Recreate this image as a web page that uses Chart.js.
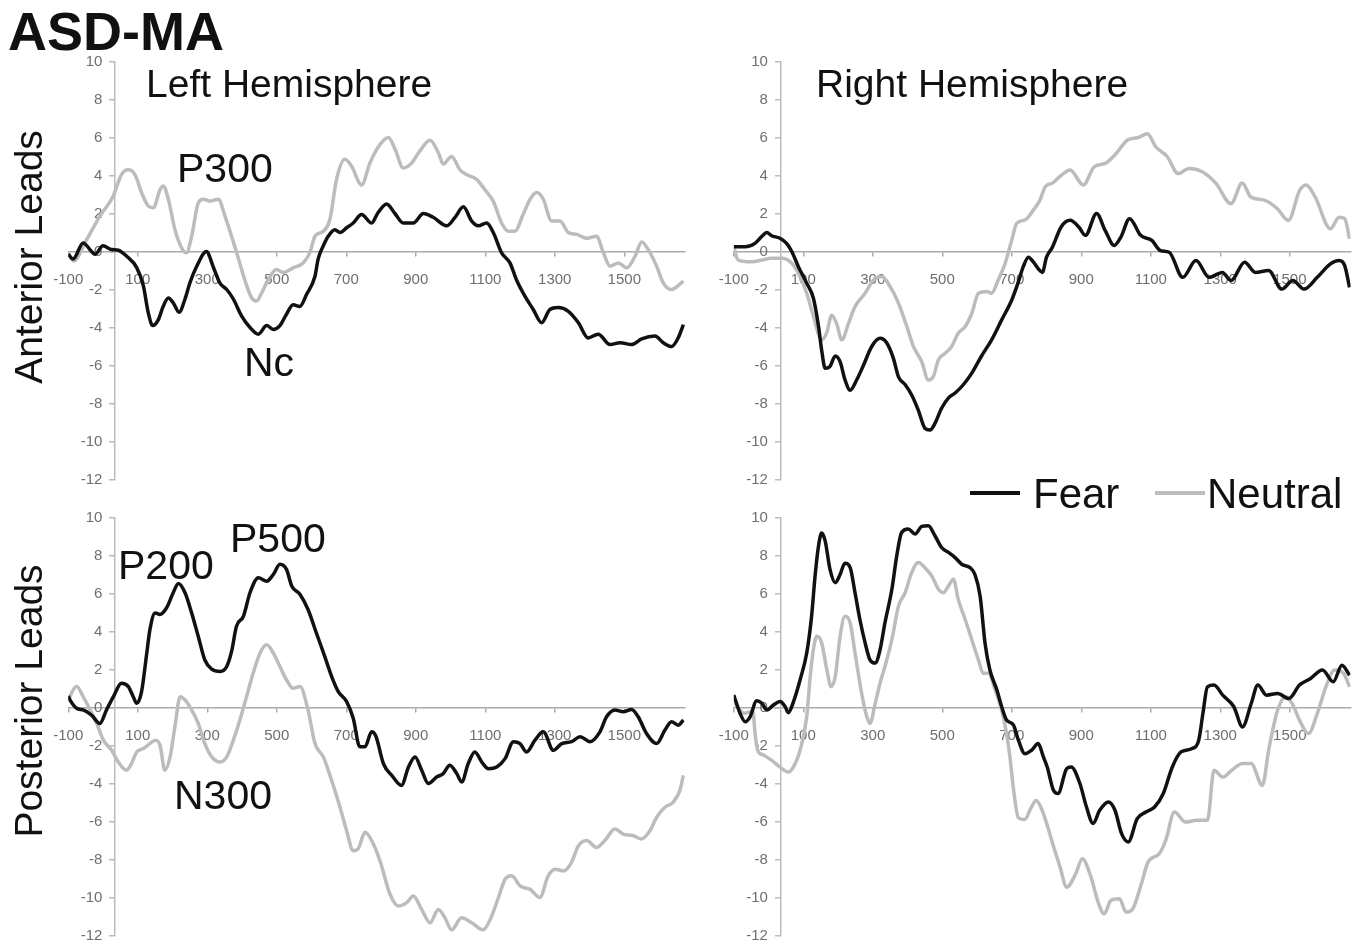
<!DOCTYPE html>
<html><head><meta charset="utf-8">
<script src="https://cdn.jsdelivr.net/npm/chart.js@4/dist/chart.umd.min.js"></script>
<style>
html,body{margin:0;padding:0;background:#fff;}
body{width:1362px;height:944px;overflow:hidden;position:relative;font-family:"Liberation Sans",Arial,sans-serif;}
canvas{position:absolute;}
.t{position:absolute;white-space:nowrap;line-height:1;color:#111;}
.sw{position:absolute;height:4px;}
</style></head><body>
<canvas id="tl" width="690" height="460" style="left:20px;top:40px"></canvas>
<canvas id="tr" width="672" height="460" style="left:690px;top:40px"></canvas>
<canvas id="bl" width="690" height="460" style="left:20px;top:496px"></canvas>
<canvas id="br" width="672" height="460" style="left:690px;top:496px"></canvas>
<div id="texts"></div>
<script>
// ---- axis definitions ----
const xMin = -100, xMax = 1675, yMin = -12, yMax = 10;
const xTickValues = [-100, 100, 300, 500, 700, 900, 1100, 1300, 1500];
const yTickValues = [10, 8, 6, 4, 2, 0, -2, -4, -6, -8, -10, -12];
const yAxisAtMs = 34;
const seriesNames = ['Fear', 'Neutral'];

// ---- data: [time ms, amplitude µV] ----
const antLeftFear = [[-100,-0.15],[-86,-0.4],[-57,0.45],[-33,0],[-23,-0.15],[0,0.3],[25,0.1],[44,0.07],[68,-0.25],[97,-0.85],[116,-1.8],[130,-3.2],[143,-3.9],[159,-3.6],[173,-2.9],[188,-2.45],[202,-2.7],[219,-3.2],[236,-2.5],[250,-1.65],[269,-0.8],[298,0.0],[317,-0.8],[336,-1.65],[356,-2.0],[375,-2.5],[399,-3.4],[423,-4.0],[447,-4.35],[471,-3.9],[490,-4.1],[509,-3.9],[528,-3.3],[547,-2.8],[566,-2.9],[586,-2.25],[610,-1.3],[619,-0.4],[634,0.3],[648,0.8],[667,1.15],[682,1.0],[701,1.25],[720,1.5],[744,1.95],[773,1.5],[790,2.0],[816,2.5],[840,2.0],[864,1.5],[893,1.5],[922,2.0],[950,1.8],[989,1.35],[1013,1.8],[1037,2.35],[1061,1.6],[1080,1.35],[1104,1.5],[1123,1.0],[1147,-0.07],[1171,-0.6],[1190,-1.5],[1214,-2.35],[1238,-3.05],[1262,-3.75],[1286,-3.05],[1310,-2.95],[1339,-3.15],[1368,-3.75],[1396,-4.55],[1425,-4.35],[1459,-4.9],[1488,-4.8],[1521,-4.9],[1550,-4.6],[1588,-4.45],[1612,-4.8],[1636,-5.0],[1655,-4.55],[1670,-3.85]];
const antLeftNeutral = [[-100,-0.1],[-84,-0.5],[-47,0.63],[-9,1.86],[29,2.9],[53,4.05],[73,4.3],[92,4.05],[111,3.1],[130,2.4],[145,2.3],[164,3.25],[173,3.45],[188,2.75],[207,1.15],[226,0.2],[240,-0.07],[255,0.8],[274,2.55],[288,2.75],[308,2.65],[332,2.75],[351,1.86],[370,0.8],[389,-0.33],[408,-1.5],[428,-2.45],[442,-2.6],[456,-2.2],[475,-1.5],[499,-0.95],[518,-1.1],[547,-0.86],[576,-0.6],[595,-0.07],[610,0.8],[634,1.07],[653,1.7],[672,3.8],[696,4.85],[715,4.5],[744,3.5],[768,4.65],[792,5.5],[821,6.0],[840,5.4],[864,4.4],[888,4.65],[912,5.3],[941,5.85],[965,5.2],[979,4.6],[1003,5.0],[1027,4.3],[1046,4.05],[1075,3.8],[1099,3.25],[1123,2.65],[1147,1.5],[1166,1.07],[1185,1.07],[1210,2.0],[1229,2.75],[1248,3.1],[1267,2.75],[1291,1.6],[1315,1.6],[1339,1.0],[1363,0.9],[1392,0.7],[1420,0.8],[1440,-0.07],[1459,-0.77],[1483,-0.6],[1507,-0.86],[1531,-0.25],[1550,0.5],[1569,0.1],[1593,-0.77],[1612,-1.65],[1636,-2.0],[1655,-1.8],[1670,-1.55]];
const antRightFear = [[-100,0.25],[-67,0.25],[-39,0.43],[-19,0.8],[-5,1.0],[9,0.83],[33,0.7],[52,0.43],[67,0],[86,-0.8],[110,-1.67],[129,-2.45],[144,-3.95],[153,-5.2],[163,-6.15],[177,-6.05],[192,-5.5],[206,-5.8],[220,-6.75],[235,-7.3],[254,-6.75],[273,-6.0],[297,-5.0],[321,-4.57],[340,-4.8],[359,-5.6],[374,-6.6],[393,-7.0],[412,-7.55],[431,-8.35],[450,-9.3],[465,-9.4],[479,-9.05],[498,-8.25],[518,-7.7],[537,-7.45],[561,-7.0],[585,-6.4],[613,-5.5],[642,-4.65],[671,-3.6],[700,-2.55],[719,-1.6],[733,-0.8],[748,-0.3],[762,-0.55],[778,-0.95],[788,-1.1],[800,-0.3],[817,0.23],[842,1.29],[868,1.64],[893,1.29],[912,0.85],[944,2.0],[969,1.1],[995,0.32],[1014,0.76],[1039,1.73],[1071,0.85],[1103,0.58],[1128,0.05],[1153,-0.04],[1192,-1.36],[1230,-0.48],[1268,-1.36],[1306,-1.1],[1331,-1.53],[1370,-0.56],[1401,-1.1],[1439,-1.0],[1477,-1.98],[1509,-1.53],[1541,-1.98],[1579,-1.36],[1617,-0.65],[1642,-0.48],[1658,-0.74],[1672,-1.89]];
const antRightNeutral = [[-100,0.3],[-92,-0.3],[-87,-0.45],[-48,-0.54],[-19,-0.45],[9,-0.36],[38,-0.36],[67,-0.62],[86,-1.15],[110,-2.2],[129,-3.4],[153,-4.65],[167,-4.3],[182,-3.35],[196,-3.8],[211,-4.65],[230,-3.8],[249,-2.9],[278,-2.2],[302,-1.5],[326,-1.32],[350,-1.85],[374,-2.72],[398,-3.95],[417,-5.0],[441,-5.8],[460,-6.76],[474,-6.6],[489,-5.7],[508,-5.36],[527,-5.0],[546,-4.3],[566,-3.95],[585,-3.25],[604,-2.2],[628,-2.1],[642,-2.2],[661,-1.5],[681,-0.62],[700,0.6],[714,1.48],[738,1.66],[762,2.18],[781,2.7],[796,3.4],[817,3.6],[842,4.0],[868,4.29],[906,3.5],[937,4.46],[969,4.64],[1001,5.17],[1033,5.87],[1064,6.0],[1090,6.2],[1115,5.5],[1147,5.0],[1179,4.1],[1210,4.37],[1248,4.2],[1287,3.6],[1331,2.52],[1363,3.6],[1388,2.87],[1426,2.7],[1464,2.26],[1496,1.64],[1528,3.2],[1547,3.5],[1573,2.87],[1617,1.2],[1642,1.8],[1658,1.73],[1672,0.67]];
const postLeftFear = [[-100,0.6],[-95,0.4],[-76,-0.04],[-57,-0.13],[-33,-0.4],[-9,-0.84],[10,-0.13],[30,0.57],[53,1.28],[73,1.1],[87,0.57],[97,0.22],[111,0.84],[126,2.87],[135,4.1],[150,4.98],[164,4.9],[183,5.25],[202,6.04],[217,6.53],[236,6.04],[255,4.98],[274,3.75],[293,2.5],[313,2.02],[337,1.9],[356,2.16],[370,2.95],[384,4.28],[404,4.8],[423,6.04],[447,6.83],[471,6.65],[490,7.0],[509,7.54],[528,7.27],[543,6.4],[567,5.95],[590,5.16],[614,3.92],[638,2.69],[658,1.63],[677,0.84],[701,0.31],[720,-0.57],[739,-2.07],[754,-2.07],[773,-1.28],[785,-1.5],[807,-2.96],[831,-3.57],[859,-4.1],[879,-3.13],[898,-2.6],[917,-3.3],[936,-4.0],[960,-3.66],[979,-3.48],[998,-3.04],[1018,-3.48],[1032,-3.92],[1051,-2.95],[1070,-2.34],[1090,-2.87],[1109,-3.22],[1133,-3.13],[1157,-2.69],[1181,-1.8],[1200,-1.9],[1219,-2.34],[1243,-1.72],[1267,-1.28],[1296,-2.25],[1320,-1.9],[1348,-1.8],[1373,-1.54],[1401,-1.8],[1430,-1.28],[1449,-0.49],[1473,-0.13],[1497,-0.22],[1521,-0.1],[1540,-0.49],[1564,-1.37],[1593,-1.9],[1617,-1.19],[1636,-0.75],[1655,-0.93],[1670,-0.66]];
const postLeftNeutral = [[-100,0.3],[-95,0.57],[-76,1.1],[-57,0.57],[-37,-0.13],[-18,-0.84],[1,-1.72],[25,-2.25],[44,-2.87],[68,-3.3],[82,-2.95],[97,-2.34],[116,-2.16],[135,-1.9],[150,-1.72],[164,-1.98],[178,-3.3],[193,-2.6],[207,-1.0],[222,0.57],[236,0.4],[255,-0.13],[274,-0.84],[293,-1.9],[313,-2.6],[337,-2.87],[356,-2.6],[375,-1.72],[394,-0.66],[413,0.57],[432,1.8],[452,2.87],[471,3.3],[490,2.87],[509,2.16],[528,1.46],[547,1.01],[567,1.1],[590,-0.13],[610,-1.9],[634,-2.6],[658,-3.84],[682,-5.25],[701,-6.48],[720,-7.54],[734,-7.45],[754,-6.57],[773,-7.0],[797,-8.07],[826,-9.83],[850,-10.45],[874,-10.27],[893,-9.92],[917,-10.63],[941,-11.33],[965,-10.63],[984,-11.07],[1003,-11.7],[1032,-11.07],[1061,-11.33],[1094,-11.7],[1114,-11.16],[1138,-10.0],[1157,-9.04],[1176,-8.86],[1200,-9.39],[1229,-9.57],[1257,-10.0],[1281,-8.86],[1301,-8.51],[1325,-8.6],[1348,-8.16],[1368,-7.28],[1392,-7.0],[1420,-7.37],[1444,-7.0],[1473,-6.4],[1497,-6.66],[1526,-6.75],[1550,-6.92],[1574,-6.48],[1593,-5.78],[1617,-5.25],[1641,-4.98],[1660,-4.36],[1670,-3.57]];
const postRightFear = [[-100,0.66],[-82,-0.3],[-67,-0.75],[-53,-0.49],[-34,0.36],[-19,0.22],[-5,-0.13],[14,0.13],[33,0.31],[48,0.04],[57,-0.27],[72,0.31],[91,1.46],[110,2.87],[124,4.8],[134,6.92],[144,8.51],[153,9.18],[163,8.77],[177,7.27],[192,6.57],[206,7.0],[220,7.59],[235,7.36],[249,6.04],[263,4.63],[278,3.4],[292,2.51],[307,2.34],[321,3.04],[335,4.45],[355,6.22],[369,7.98],[383,9.21],[402,9.39],[422,9.13],[441,9.53],[460,9.57],[479,9.04],[498,8.42],[518,8.16],[537,7.89],[556,7.54],[580,7.36],[594,7.0],[609,5.86],[623,3.4],[637,1.98],[657,0.93],[671,0.04],[685,-0.66],[705,-0.93],[719,-1.72],[738,-2.43],[757,-2.25],[776,-1.9],[791,-2.6],[802,-3.13],[820,-4.36],[833,-4.53],[858,-3.22],[871,-3.13],[896,-4.0],[915,-5.24],[934,-6.1],[953,-5.41],[978,-4.97],[997,-5.41],[1016,-6.64],[1035,-7.08],[1061,-5.85],[1086,-5.5],[1111,-5.24],[1136,-4.53],[1162,-3.13],[1187,-2.34],[1219,-2.16],[1238,-1.72],[1250,-0.32],[1263,1.09],[1282,1.18],[1307,0.65],[1339,0.04],[1364,-1.02],[1389,0.21],[1408,1.18],[1433,0.65],[1465,0.74],[1497,0.47],[1528,1.18],[1560,1.53],[1594,1.97],[1625,1.35],[1650,2.23],[1672,1.7]];
const postRightNeutral = [[-100,0.3],[-70,-0.3],[-45,-0.2],[-38,-1.5],[-30,-2.3],[-15,-2.5],[9,-2.78],[33,-3.13],[57,-3.4],[72,-3.13],[91,-2.25],[110,-0.49],[120,1.63],[129,3.04],[139,3.75],[153,3.4],[168,1.98],[180,1.1],[192,1.63],[206,3.75],[220,4.8],[235,4.45],[249,2.87],[268,0.75],[283,-0.49],[292,-0.84],[307,0.22],[321,1.28],[335,2.16],[355,3.57],[374,5.33],[393,6.04],[412,7.1],[431,7.63],[450,7.36],[470,6.92],[489,6.22],[503,6.04],[518,6.4],[532,6.75],[546,5.69],[566,4.63],[585,3.57],[604,2.51],[618,1.8],[633,1.8],[652,0.93],[671,-0.13],[685,-1.37],[694,-2.5],[705,-4.3],[719,-5.8],[737,-5.9],[755,-5.3],[770,-4.9],[785,-5.3],[802,-6.2],[820,-7.3],[839,-8.4],[858,-9.46],[884,-8.75],[903,-7.96],[928,-8.93],[947,-10.16],[966,-10.86],[985,-10.16],[1010,-10.07],[1029,-10.77],[1048,-10.6],[1073,-9.28],[1092,-8.14],[1124,-7.7],[1143,-7.0],[1168,-5.5],[1200,-6.03],[1232,-5.94],[1263,-5.94],[1282,-3.3],[1307,-3.66],[1333,-3.3],[1364,-2.95],[1389,-2.95],[1421,-4.1],[1440,-2.16],[1465,-0.14],[1490,0.56],[1509,0.12],[1528,-0.67],[1554,-1.37],[1579,-0.32],[1604,1.09],[1629,1.97],[1655,1.79],[1672,1.09]];

// ---- layout (pixel paddings so chart areas line up) ----
const padsLeft = {left:48.25, right:24.9, top:21.5, bottom:20.5};
const padsRight = {left:43.75, right:11.4, top:21.5, bottom:20.5};

const axisGray = '#aaaaaa';
const tickFont = {family:'"Liberation Sans", Arial, sans-serif', size:15};

function makePanel(id, fear, neutral, pads) {
  new Chart(document.getElementById(id), {
    type: 'line',
    data: {
      datasets: [
        {label: seriesNames[0], data: fear.map(p => ({x:p[0], y:p[1]})), borderColor:'#111111', borderWidth:3.5, pointRadius:0, fill:false, cubicInterpolationMode:'monotone'},
        {label: seriesNames[1], data: neutral.map(p => ({x:p[0], y:p[1]})), borderColor:'#bcbcbc', borderWidth:3.5, pointRadius:0, fill:false, cubicInterpolationMode:'monotone'}
      ]
    },
    options: {
      responsive:false, animation:false, devicePixelRatio:1,
      layout:{padding:pads},
      plugins:{legend:{display:false}, tooltip:{enabled:false}},
      scales: {
        x: {
          type:'linear', min:xMin, max:xMax, position:{y:0},
          afterBuildTicks: s => { s.ticks = xTickValues.map(v => ({value:v})); },
          ticks:{font:tickFont, color:'#6e6e6e', padding:15, maxRotation:0, autoSkip:false, callback: v => String(v)},
          grid:{drawOnChartArea:false, drawTicks:true, tickLength:4, color:axisGray, lineWidth:1.5},
          border:{display:true, color:axisGray, width:1.5}
        },
        y: {
          type:'linear', min:yMin, max:yMax, position:{x:yAxisAtMs},
          afterBuildTicks: s => { s.ticks = yTickValues.map(v => ({value:v})); },
          // trailing spaces keep the right-aligned labels clear of the axis line
          ticks:{font:tickFont, color:'#6e6e6e', padding:0, autoSkip:false, callback: v => String(v) + '   '},
          grid:{drawOnChartArea:false, drawTicks:true, tickLength:5, color:'#bbbbbb', lineWidth:1.5},
          border:{display:true, color:'#bbbbbb', width:1.5}
        }
      }
    }
  });
}

makePanel('tl', antLeftFear, antLeftNeutral, padsLeft);
makePanel('tr', antRightFear, antRightNeutral, padsRight);
makePanel('bl', postLeftFear, postLeftNeutral, padsLeft);
makePanel('br', postRightFear, postRightNeutral, padsRight);

// ---- text labels ----
const labels = [
  {text:'ASD-MA', x:8, base:50, size:54, bold:true},
  {text:'Left Hemisphere', x:146, base:97, size:39},
  {text:'Right Hemisphere', x:816, base:97, size:39},
  {text:'P300', x:177, base:183, size:41},
  {text:'Nc', x:244, base:377, size:41},
  {text:'P200', x:118, base:580, size:41},
  {text:'P500', x:230, base:553, size:41},
  {text:'N300', x:174, base:810, size:41},
  {text:seriesNames[0], x:1033, base:509, size:42},
  {text:seriesNames[1], x:1207, base:509, size:42}
];
const host = document.getElementById('texts');
labels.forEach(l => {
  const d = document.createElement('div');
  d.className = 't';
  d.textContent = l.text;
  d.style.fontSize = l.size + 'px';
  d.style.left = l.x + 'px';
  d.style.top = (l.base - 0.8465 * l.size) + 'px';
  if (l.bold) d.style.fontWeight = 'bold';
  host.appendChild(d);
});
[{text:'Anterior Leads', cx:28, cy:257}, {text:'Posterior Leads', cx:28, cy:701}].forEach(l => {
  const d = document.createElement('div');
  d.className = 't';
  d.textContent = l.text;
  d.style.fontSize = '39px';
  d.style.left = l.cx + 'px';
  d.style.top = l.cy + 'px';
  d.style.transform = 'translate(-50%,-50%) rotate(-90deg)';
  host.appendChild(d);
});
[{x:970, w:50, c:'#111'}, {x:1155, w:50, c:'#bcbcbc'}].forEach(s => {
  const d = document.createElement('div');
  d.className = 'sw';
  d.style.left = s.x + 'px';
  d.style.top = '491px';
  d.style.width = s.w + 'px';
  d.style.background = s.c;
  host.appendChild(d);
});
</script>
</body></html>
